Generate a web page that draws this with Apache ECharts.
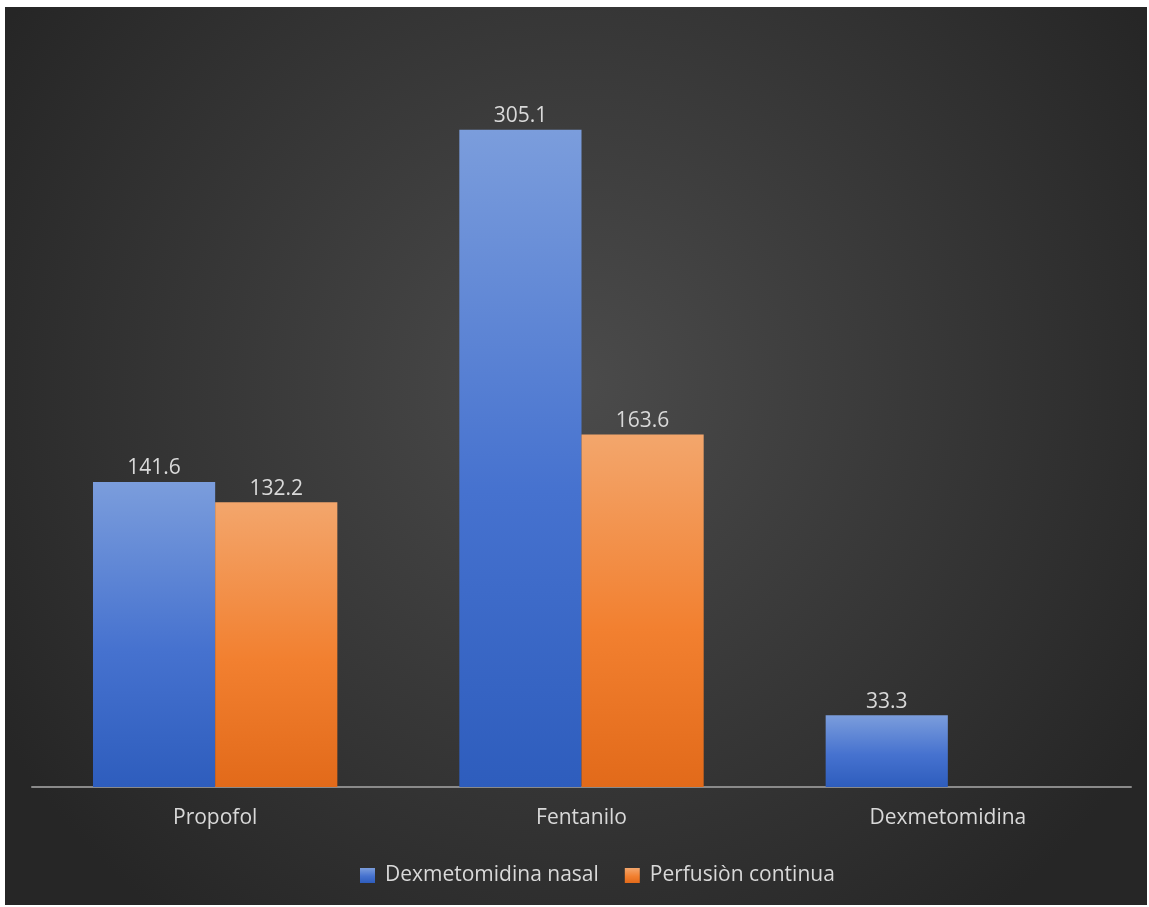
<!DOCTYPE html>
<html>
<head>
<meta charset="utf-8">
<script src="https://cdn.jsdelivr.net/npm/echarts@6/dist/echarts.min.js"></script>
<style>
  html, body { margin: 0; padding: 0; background: #ffffff; }
  #chart { position: absolute; left: 5px; top: 7px; width: 1142px; height: 898px; }
</style>
</head>
<body>
<div id="chart"></div>
<script>
// Drug doses per sedation protocol
const categories = ['Propofol', 'Fentanilo', 'Dexmetomidina'];
const seriesNames = ['Dexmetomidina nasal', 'Perfusiòn continua'];
const nasalValues = [141.6, 305.1, 33.3];
const perfusionValues = [132.2, 163.6, null];

const FONT = '"Open Sans", "Liberation Sans", sans-serif';
const TEXT = '#d9d9d9';
const FONT_SIZE = 21;

function barGradient(top, mid, bottom) {
  return new echarts.graphic.LinearGradient(0, 0, 0, 1, [
    { offset: 0, color: top },
    { offset: 0.55, color: mid },
    { offset: 1, color: bottom }
  ]);
}

const chart = echarts.init(document.getElementById('chart'), null, { renderer: 'canvas' });

chart.setOption({
  animation: false,
  backgroundColor: {
    type: 'radial', x: 0.5, y: 0.42, r: 0.75,
    colorStops: [
      { offset: 0, color: '#4b4b4b' },
      { offset: 1, color: '#262626' }
    ]
  },
  textStyle: { fontFamily: FONT },
  grid: { left: 27, right: 16, top: 26, bottom: 118, containLabel: false },
  legend: {
    bottom: 14,
    left: 350,
    itemWidth: 15,
    itemHeight: 15,
    itemGap: 26,
    icon: 'rect',
    textStyle: { color: TEXT, fontSize: FONT_SIZE, fontFamily: FONT, padding: [0, 0, 0, 5] },
    data: seriesNames
  },
  xAxis: {
    type: 'category',
    data: categories,
    axisLine: { show: true, lineStyle: { color: '#8a8a8a', width: 2 } },
    axisTick: { show: false },
    axisLabel: { color: TEXT, fontSize: FONT_SIZE, fontFamily: FONT, margin: 21 }
  },
  yAxis: {
    type: 'value',
    min: 0,
    max: 350,
    show: false,
    splitLine: { show: false }
  },
  series: [
    {
      name: seriesNames[0],
      type: 'bar',
      data: nasalValues,
      barGap: '0%',
      barCategoryGap: '33.3%',
      itemStyle: { color: barGradient('#7b9ddc', '#4672cf', '#2e5dbd') },
      label: { show: true, position: 'top', distance: 3, color: TEXT, fontSize: FONT_SIZE, fontFamily: FONT,
               formatter: p => p.value.toFixed(1) }
    },
    {
      name: seriesNames[1],
      type: 'bar',
      data: perfusionValues,
      itemStyle: { color: barGradient('#f3a66c', '#f28030', '#e26a1a') },
      label: { show: true, position: 'top', distance: 3, color: TEXT, fontSize: FONT_SIZE, fontFamily: FONT,
               formatter: p => (p.value == null ? '' : p.value.toFixed(1)) }
    }
  ]
});
</script>
</body>
</html>
